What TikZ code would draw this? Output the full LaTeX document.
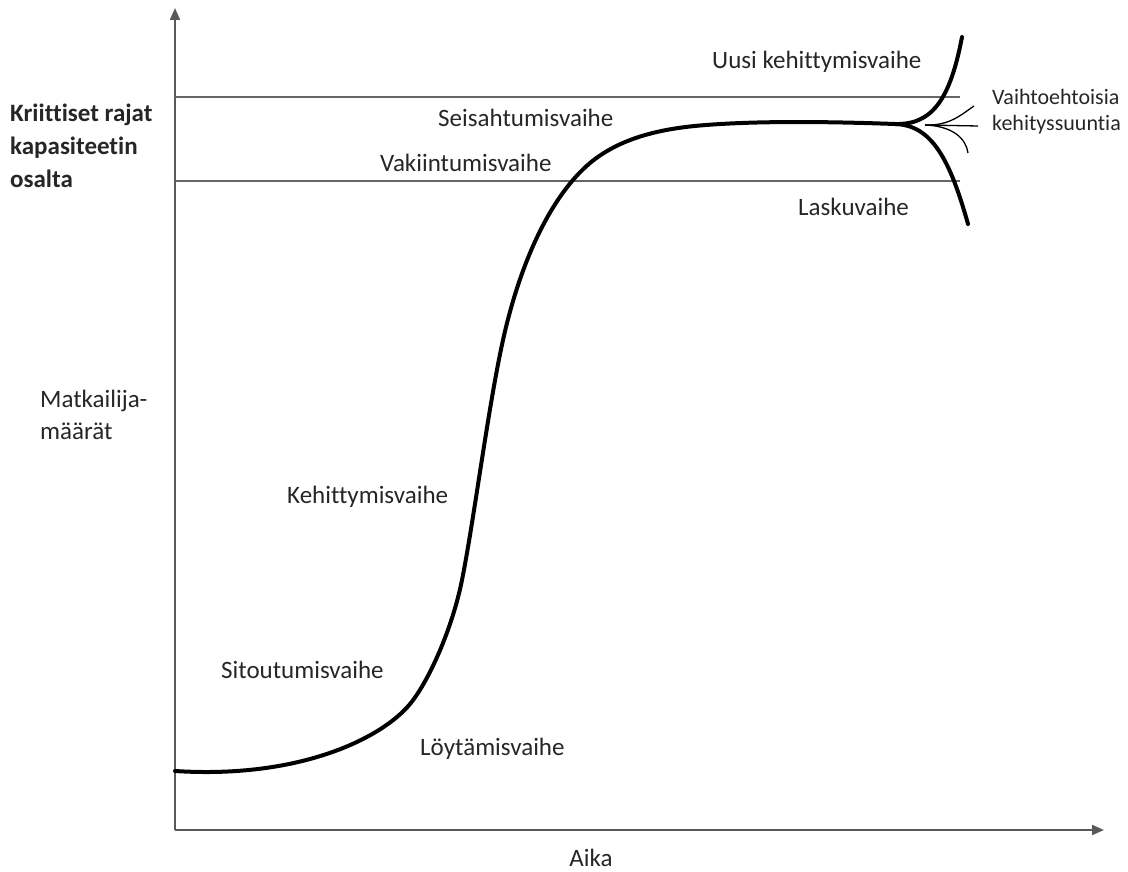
\documentclass[tikz,border=0pt]{standalone}
\usepackage{fontspec}
\setmainfont[Ligatures={NoCommon}]{Carlito}
\usetikzlibrary{arrows.meta}
\begin{document}
\begin{tikzpicture}[x=1pt,y=-1pt,
  lbl/.style={font=\fontsize{25}{29}\selectfont, text=black!85, inner sep=0pt},
  axis/.style={line width=2pt, draw=black!65, -{Triangle[length=12pt,width=10pt]}},
  limit/.style={line width=1.4pt, draw=black!60},
  curve/.style={line width=4pt, line cap=round, line join=round},
  thin branch/.style={line width=1.3pt}]
\useasboundingbox (0,0) rectangle (1128,872);
% axes
\coordinate (O) at (175,830);
\coordinate (ytop) at (175,8);
\coordinate (xend) at (1104,830);
\draw[axis] (O) -- (ytop);
\draw[axis] (O) -- (xend);
% limit lines
\coordinate (l1a) at (175,97);
\coordinate (l1b) at (960,97);
\coordinate (l2a) at (175,181);
\coordinate (l2b) at (960,181);
\draw[limit] (l1a) -- (l1b);
\draw[limit] (l2a) -- (l2b);
% main curve
\coordinate (P0) at (175,771);
\coordinate (P1) at (410,704);
\coordinate (P2) at (462,580);
\coordinate (P3) at (503,340);
\coordinate (P4) at (590,163);
\coordinate (P5) at (700,125.5);
\coordinate (J) at (895,124);
\draw[curve] (P0) .. controls (300,779) and (382,738) .. (P1)
  .. controls (428,682.4) and (452,630) .. (P2)
  .. controls (474,520) and (488,408) .. (P3)
  .. controls (521,259) and (552,195) .. (P4)
  .. controls (620,138) and (660,129) .. (P5)
  .. controls (760,120.25) and (840,122) .. (J);
\coordinate (up) at (962,37);
\coordinate (down) at (968,224);
\draw[curve] (J) .. controls (932,125) and (950,100) .. (up);
\draw[curve] (J) .. controls (932,125) and (950,160) .. (down);
\coordinate (J2) at (925,125);
\coordinate (t1) at (974,106);
\coordinate (t2) at (978,126);
\coordinate (t3) at (968,153);
\draw[thin branch] (J2) .. controls (950,126) and (962,114) .. (t1);
\draw[thin branch] (J2) -- (t2);
\draw[thin branch] (J2) .. controls (952,126) and (966,138) .. (t3);
% labels
\node[lbl, anchor=west] (uusi) at (712,62) {Uusi kehittymisvaihe};
\node[lbl, anchor=west] (seis) at (438,118) {Seisahtumisvaihe};
\node[lbl, anchor=west] (vak) at (380,163) {Vakiintumisvaihe};
\node[lbl, anchor=west] (lasku) at (798,207) {Laskuvaihe};
\node[lbl, anchor=north west, align=left, font=\fontsize{22}{26}\selectfont] (vaiht) at (992,89) {Vaihtoehtoisia\\kehityssuuntia};
\node[lbl, anchor=north west, align=left, font=\bfseries\fontsize{25}{33}\selectfont] (krit) at (10,104) {Kriittiset rajat\\kapasiteetin\\osalta};
\node[lbl, anchor=north west, align=left, font=\fontsize{25}{32}\selectfont] (matk) at (40,390) {Matkailija-\\määrät};
\node[lbl, anchor=west] (keh) at (287,497) {Kehittymisvaihe};
\node[lbl, anchor=west] (sit) at (221,670) {Sitoutumisvaihe};
\node[lbl, anchor=west] (loyt) at (420,749) {Löytämisvaihe};
\node[lbl] (aika) at (591,858) {Aika};
\end{tikzpicture}
\end{document}
